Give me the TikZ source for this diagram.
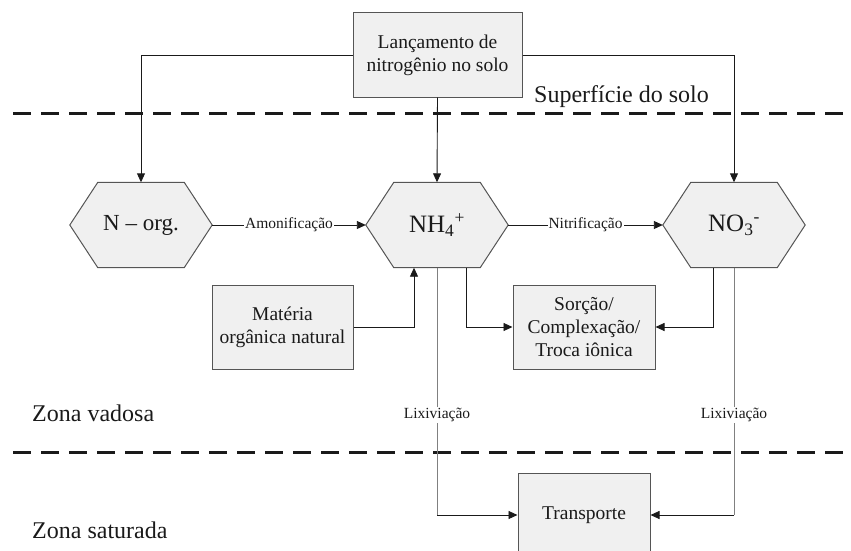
\documentclass[tikz,border=0pt]{standalone}
\usepackage{fontspec}
\setmainfont{Liberation Serif}
\usetikzlibrary{arrows.meta,backgrounds}
\definecolor{boxfill}{HTML}{F0F0F0}
\definecolor{boxline}{HTML}{555555}
\definecolor{ink}{HTML}{1A1A1A}
\definecolor{leachline}{HTML}{808080}

% hexagon outline drawn behind a named node
\newcommand{\hexoutline}[1]{%
  \begin{pgfonlayer}{background}
    \draw[hexline] (#1.west) -- ([xshift=28pt]#1.north west) -- ([xshift=-28pt]#1.north east)
      -- (#1.east) -- ([xshift=-28pt]#1.south east) -- ([xshift=28pt]#1.south west) -- cycle;
  \end{pgfonlayer}}

\begin{document}
\begin{tikzpicture}[x=1pt,y=-1pt,
  box/.style={draw=boxline, fill=boxfill, line width=1pt, align=center, inner sep=2pt,
    minimum height=84pt, text=ink, font=\fontsize{19.5}{23}\selectfont},
  hexslot/.style={minimum width=142pt, minimum height=85pt, inner sep=0pt, text=ink,
    font=\fontsize{23}{27}\selectfont},
  bigsym/.style={font=\fontsize{25}{29}\selectfont},
  hexline/.style={draw=boxline, fill=boxfill, line width=1pt, line join=miter},
  plain/.style={draw=ink, line width=0.9pt},
  conn/.style={plain, -{Triangle[length=9pt,width=8pt]}},
  leach/.style={draw=leachline, line width=0.9pt},
  lbl/.style={fill=white, inner sep=1pt, text=ink, font=\fontsize{15.5}{18}\selectfont},
  zone/.style={anchor=west, inner sep=0pt, text=ink, font=\fontsize{24}{28}\selectfont},
  soilline/.style={draw=ink, line width=3pt, dash pattern=on 18pt off 10pt}
]
\useasboundingbox (0,0) rectangle (851,551);
\clip (0,0) rectangle (851,551);

% boundaries between zones
\draw[soilline] (13,113) -- (851,113);
\draw[soilline] (13,452) -- (851,452);

% zone labels
\node[zone] (sup) at (534,97) {Superfície do solo};
\node[zone] (vad) at (32,413) {Zona vadosa};
\node[zone] (sat) at (32,530) {Zona saturada};

% process boxes
\node[box, minimum width=169pt] (top) at (437.5,55) {Lançamento de\\nitrogênio no solo};
\node[box, minimum width=141pt] (mat) at (282.5,327) {Matéria\\orgânica natural};
\node[box, minimum width=142pt] (sor) at (584,327) {Sorção/\\Complexação/\\Troca iônica};
\node[box, minimum width=132pt] (tra) at (584,515) {Transporte};

% nitrogen species
\node[hexslot] (norg) at (141,225) {N – org.};
\node[hexslot, bigsym] (nh4) at (437,225) {NH\textsubscript{4}\textsuperscript{+}};
\node[hexslot, bigsym] (no3) at (734,225) {NO\textsubscript{3}\textsuperscript{-}};
\hexoutline{norg}
\hexoutline{nh4}
\hexoutline{no3}

% corners of the leaching paths
\coordinate (lixA) at (nh4.south |- tra.west);
\coordinate (lixB) at (no3.south |- tra.east);

% connectors
\draw[conn] (top.west) -| (norg.north);
\draw[conn] (top.east) -| (no3.north);
\draw[conn] (top.south) -- (nh4.north);
\draw[conn] (norg.east) -- node[lbl] {Amonificação} (nh4.west);
\draw[conn] (nh4.east) -- node[lbl] {Nitrificação} (no3.west);
\draw[conn] (mat.east) -| ([xshift=-23pt]nh4.south);
\draw[conn] ([xshift=29pt]nh4.south) |- (sor.west);
\draw[conn] ([xshift=-21pt]no3.south) |- (sor.east);
\draw[leach] (nh4.south) -- node[lbl, pos=0.595] {Lixiviação} (lixA);
\draw[leach] (no3.south) -- node[lbl, pos=0.595] {Lixiviação} (lixB);
\draw[conn] (lixA) -- (tra.west);
\draw[conn] (lixB) -- (tra.east);
\end{tikzpicture}
\end{document}
